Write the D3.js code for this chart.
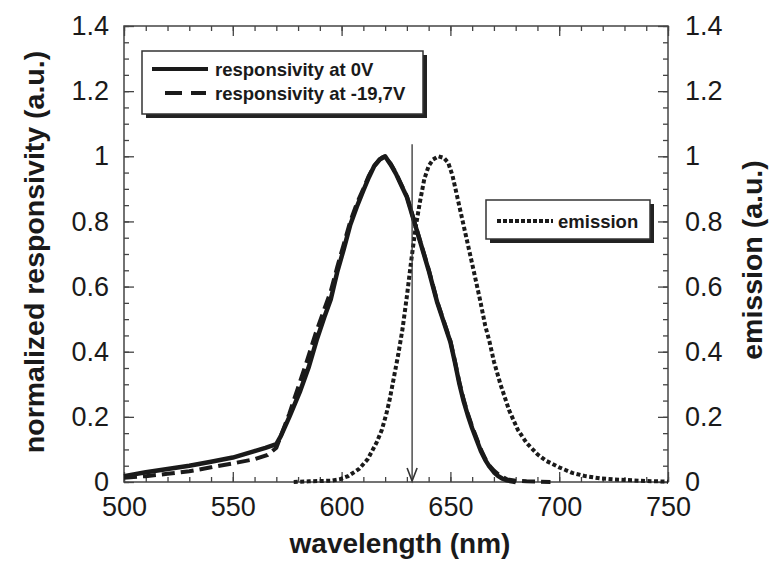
<!DOCTYPE html>
<html>
<head>
<meta charset="utf-8">
<script src="https://cdn.jsdelivr.net/npm/d3@7"></script>
<style>
  body { margin: 0; background: #fff; }
  svg text { font-family: "Liberation Sans", Arial, Helvetica, sans-serif; fill: #1a1a1a; }
</style>
</head>
<body>
<div id="chart"></div>
<script>
// responsivity at 0V
const wl0V = [500, 510, 520, 530, 540, 550, 560, 565, 570, 572, 576, 581, 585, 588.5, 592, 595, 598, 601, 604, 607, 610, 612.5, 615, 617.5, 620, 622.5, 625, 627.5, 630, 632, 634, 636, 638, 640, 642, 644, 646, 648, 650, 652, 654, 656, 658, 660, 662, 664, 666, 668, 670, 672, 674, 676, 678, 680];
const resp0V = [0.018, 0.03, 0.04, 0.05, 0.062, 0.075, 0.095, 0.105, 0.116, 0.14, 0.2, 0.28, 0.355, 0.435, 0.505, 0.56, 0.645, 0.715, 0.79, 0.845, 0.895, 0.935, 0.97, 0.99, 1.0, 0.975, 0.946, 0.91, 0.875, 0.83, 0.785, 0.74, 0.695, 0.65, 0.6, 0.55, 0.51, 0.47, 0.43, 0.37, 0.305, 0.25, 0.205, 0.165, 0.13, 0.095, 0.068, 0.047, 0.03, 0.018, 0.01, 0.005, 0.002, 0];

// responsivity at -19,7V
const wlBias = [500, 510, 520, 530, 540, 550, 560, 566, 570, 572, 576, 580, 584, 588, 592, 595, 598, 601, 604, 607, 610, 612.5, 615, 617.5, 619.5, 622.5, 625, 627.5, 630, 632, 634, 636, 638, 640, 642, 644, 646, 648, 650, 652, 654, 656, 658, 660, 662, 664, 666, 668, 670, 672, 674, 676, 680, 685, 690, 696];
const respBias = [0.013, 0.018, 0.025, 0.033, 0.045, 0.057, 0.07, 0.083, 0.105, 0.14, 0.21, 0.29, 0.37, 0.455, 0.53, 0.585, 0.66, 0.73, 0.8, 0.855, 0.9, 0.94, 0.97, 0.99, 1.0, 0.978, 0.948, 0.912, 0.877, 0.832, 0.787, 0.742, 0.698, 0.653, 0.603, 0.553, 0.513, 0.473, 0.433, 0.373, 0.31, 0.255, 0.21, 0.17, 0.135, 0.1, 0.072, 0.05, 0.035, 0.024, 0.015, 0.008, 0.004, 0.002, 0.001, 0];

// emission
const wlEm = [578, 585, 590, 595, 599, 603, 608, 612, 616, 618.5, 620.6, 622, 624, 626, 628, 630, 632, 634, 636, 638, 640, 642, 644.5, 647, 649, 651, 653, 655, 657, 660, 663.6, 666, 668, 670, 673, 677, 681, 685, 690, 694, 700, 706, 712, 719, 725, 731, 740, 750];
const emission = [0, 0.002, 0.003, 0.004, 0.008, 0.018, 0.04, 0.07, 0.12, 0.16, 0.21, 0.25, 0.32, 0.39, 0.47, 0.57, 0.68, 0.78, 0.86, 0.93, 0.97, 0.99, 1.0, 0.995, 0.98, 0.94, 0.88, 0.82, 0.76, 0.67, 0.56, 0.48, 0.43, 0.37, 0.3, 0.22, 0.16, 0.12, 0.085, 0.065, 0.045, 0.028, 0.018, 0.011, 0.008, 0.006, 0.003, 0.001];

const xMajor = [500, 550, 600, 650, 700, 750];
const yMajor = [0, 0.2, 0.4, 0.6, 0.8, 1, 1.2, 1.4];
const laserLine = 632.4;

const width = 772, height = 563;
const pLeft = 124, pRight = 668, pTop = 26, pBottom = 482;

const svg = d3.select("#chart").append("svg")
  .attr("width", width)
  .attr("height", height);

const x = d3.scaleLinear().domain([500, 750]).range([pLeft, pRight]);
const y = d3.scaleLinear().domain([0, 1.4]).range([pBottom, pTop]);

const xMinor = d3.range(500, 751, 10);
const yMinor = d3.range(0, 1.401, 0.05);

// ticks: major long, minor short, all pointing inward
function tickAxis(axis, pos, vals, size, pad) {
  const g = svg.append("g")
    .attr("transform", pos)
    .call(axis.tickValues(vals).tickSize(-size).tickPadding(pad || 0)
      .tickFormat(pad ? d3.format("~g") : ""));
  g.select(".domain").remove();
  g.selectAll(".tick line").attr("stroke", "#444").attr("stroke-width", 1.3);
  g.selectAll(".tick text").style("font-size", "27px").attr("fill", "#1a1a1a");
  return g;
}

tickAxis(d3.axisBottom(x), `translate(0,${pBottom})`, xMinor, 5, 0);
tickAxis(d3.axisBottom(x), `translate(0,${pBottom})`, xMajor, 10, 15);
tickAxis(d3.axisTop(x), `translate(0,${pTop})`, xMinor, 5, 0);
tickAxis(d3.axisTop(x), `translate(0,${pTop})`, xMajor, 10, 0);
tickAxis(d3.axisLeft(y), `translate(${pLeft},0)`, yMinor, 5, 0);
tickAxis(d3.axisLeft(y), `translate(${pLeft},0)`, yMajor, 10, 15);
tickAxis(d3.axisRight(y), `translate(${pRight},0)`, yMinor, 5, 0);
tickAxis(d3.axisRight(y), `translate(${pRight},0)`, yMajor, 10, 17);

svg.append("rect")
  .attr("x", pLeft).attr("y", pTop)
  .attr("width", pRight - pLeft).attr("height", pBottom - pTop)
  .attr("fill", "none").attr("stroke", "#444").attr("stroke-width", 1.5);

// curves
const line = d3.line().x(d => x(d[0])).y(d => y(d[1]));

svg.append("path")
  .datum(d3.zip(wlEm, emission))
  .attr("d", line)
  .attr("fill", "none").attr("stroke", "#1a1a1a")
  .attr("stroke-width", 4).attr("stroke-dasharray", "4,2.5");

svg.append("path")
  .datum(d3.zip(wl0V, resp0V))
  .attr("d", line)
  .attr("fill", "none").attr("stroke", "#1a1a1a")
  .attr("stroke-width", 4.5).attr("stroke-linejoin", "round");

svg.append("path")
  .datum(d3.zip(wlBias, respBias))
  .attr("d", line)
  .attr("fill", "none").attr("stroke", "#1a1a1a")
  .attr("stroke-width", 4).attr("stroke-dasharray", "13,6");

// arrow at the emission wavelength
const ax = x(laserLine);
svg.append("line")
  .attr("x1", ax).attr("x2", ax)
  .attr("y1", y(1.037)).attr("y2", y(0) - 1)
  .attr("stroke", "#333").attr("stroke-width", 1.3);
svg.append("path")
  .attr("d", `M${ax - 5},${y(0) - 14} L${ax},${y(0) - 1} L${ax + 5},${y(0) - 14}`)
  .attr("fill", "none").attr("stroke", "#333").attr("stroke-width", 1.6);

// legends
function legendBox(bx, by, bw, bh) {
  svg.append("rect").attr("x", bx + 4).attr("y", by + 4)
    .attr("width", bw).attr("height", bh).attr("fill", "#222");
  svg.append("rect").attr("x", bx).attr("y", by)
    .attr("width", bw).attr("height", bh)
    .attr("fill", "#fff").attr("stroke", "#333").attr("stroke-width", 1.5);
}

legendBox(142, 51, 281, 63);
svg.append("line").attr("x1", 152).attr("x2", 208).attr("y1", 69).attr("y2", 69)
  .attr("stroke", "#1a1a1a").attr("stroke-width", 4);
svg.append("line").attr("x1", 165).attr("x2", 206).attr("y1", 93).attr("y2", 93)
  .attr("stroke", "#1a1a1a").attr("stroke-width", 4).attr("stroke-dasharray", "17,9");
svg.append("text").attr("x", 215).attr("y", 76)
  .style("font-size", "18.5px").style("font-weight", "bold").text("responsivity at 0V");
svg.append("text").attr("x", 215).attr("y", 100)
  .style("font-size", "18.5px").style("font-weight", "bold").text("responsivity at -19,7V");

legendBox(486, 200, 164, 39);
svg.append("line").attr("x1", 497).attr("x2", 553).attr("y1", 221).attr("y2", 221)
  .attr("stroke", "#1a1a1a").attr("stroke-width", 4).attr("stroke-dasharray", "4,2");
svg.append("text").attr("x", 558).attr("y", 228)
  .style("font-size", "18.5px").style("font-weight", "bold").text("emission");

// axis titles
svg.append("text")
  .attr("x", (pLeft + pRight) / 2 + 4).attr("y", 553)
  .attr("text-anchor", "middle")
  .style("font-size", "28px").style("font-weight", "bold")
  .text("wavelength (nm)");

svg.append("text")
  .attr("transform", `translate(44,252) rotate(-90)`)
  .attr("text-anchor", "middle")
  .style("font-size", "28.5px").style("font-weight", "bold")
  .text("normalized responsivity (a.u.)");

svg.append("text")
  .attr("transform", `translate(762,260) rotate(-90)`)
  .attr("text-anchor", "middle")
  .style("font-size", "28.5px").style("font-weight", "bold")
  .text("emission (a.u.)");
</script>
</body>
</html>
